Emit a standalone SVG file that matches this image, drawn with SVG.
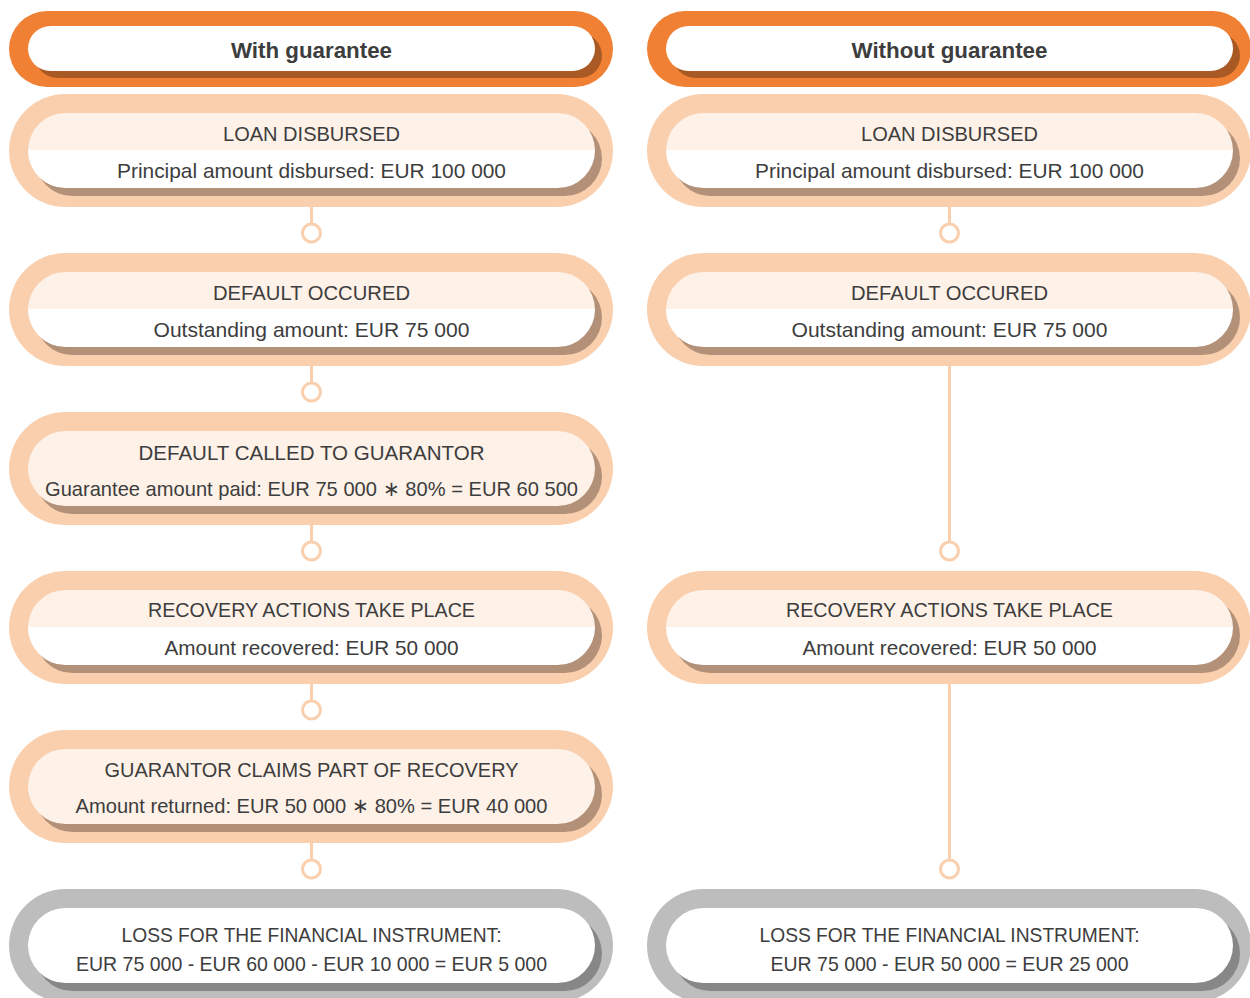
<svg xmlns="http://www.w3.org/2000/svg" width="1250" height="998" viewBox="0 0 1250 998">
  <defs>
    <!-- two-tone fill for steps with a title band over a white detail band -->
    <linearGradient id="band" x1="0" y1="0" x2="0" y2="1">
      <stop offset="0.5" stop-color="#fdf1e8"/>
      <stop offset="0.5" stop-color="#ffffff"/>
    </linearGradient>
  </defs>
  <style>
    .txt { font-family: "Liberation Sans", Arial, sans-serif; font-size: 21px; fill: #3d3d3d; text-anchor: middle; }
    .hd { font-weight: bold; font-size: 22px; }
    .hd-outer { fill: #f08034; }
    .hd-shadow { fill: #a95a24; }
    .st-outer { fill: #f9cfae; }
    .st-shadow { fill: #b39078; }
    .loss-outer { fill: #bdbdbd; }
    .loss-shadow { fill: #878787; }
    .white { fill: #ffffff; }
    .light { fill: #fdf1e8; }
    .split { fill: url(#band); }
    .conn line { stroke: #f9cfae; stroke-width: 3; }
    .conn circle { stroke: #f9cfae; stroke-width: 3; fill: #ffffff; }
  </style>
  <rect width="1250" height="998" fill="#ffffff"/>

  <!-- connectors -->
  <g id="connectors" class="conn">
    <line x1="311.5" y1="207" x2="311.5" y2="224"/>
    <circle cx="311.5" cy="233" r="9"/>
    <line x1="311.5" y1="366" x2="311.5" y2="383"/>
    <circle cx="311.5" cy="392" r="9"/>
    <line x1="311.5" y1="525" x2="311.5" y2="542"/>
    <circle cx="311.5" cy="551" r="9"/>
    <line x1="311.5" y1="684" x2="311.5" y2="701"/>
    <circle cx="311.5" cy="710" r="9"/>
    <line x1="311.5" y1="843" x2="311.5" y2="860"/>
    <circle cx="311.5" cy="869" r="9"/>

    <line x1="949.5" y1="207" x2="949.5" y2="224"/>
    <circle cx="949.5" cy="233" r="9"/>
    <line x1="949.5" y1="366" x2="949.5" y2="542"/>
    <circle cx="949.5" cy="551" r="9"/>
    <line x1="949.5" y1="684" x2="949.5" y2="860"/>
    <circle cx="949.5" cy="869" r="9"/>
  </g>

  <!-- left column: with guarantee -->
  <g id="hdr-with">
    <rect class="hd-outer" x="9" y="11" width="604" height="76" rx="38"/>
    <rect class="hd-shadow" x="35" y="33" width="567" height="45" rx="22.5"/>
    <rect class="white" x="28" y="26" width="567" height="45" rx="22.5"/>
    <text class="txt hd" x="311.5" y="58" textLength="161" lengthAdjust="spacingAndGlyphs">With guarantee</text>
  </g>

  <g id="w-loan">
    <rect class="st-outer" x="9" y="94" width="604" height="113" rx="56.5"/>
    <rect class="st-shadow" x="35" y="121" width="567" height="75" rx="37.5"/>
    <rect class="split" x="28" y="113" width="567" height="75" rx="37.5"/>
    <text class="txt" x="311.5" y="141" textLength="177" lengthAdjust="spacingAndGlyphs">LOAN DISBURSED</text>
    <text class="txt" x="311.5" y="178" textLength="389" lengthAdjust="spacingAndGlyphs">Principal amount disbursed: EUR 100 000</text>
  </g>

  <g id="w-default">
    <rect class="st-outer" x="9" y="253" width="604" height="113" rx="56.5"/>
    <rect class="st-shadow" x="35" y="280" width="567" height="75" rx="37.5"/>
    <rect class="split" x="28" y="272" width="567" height="75" rx="37.5"/>
    <text class="txt" x="311.5" y="300" textLength="197" lengthAdjust="spacingAndGlyphs">DEFAULT OCCURED</text>
    <text class="txt" x="311.5" y="337" textLength="316" lengthAdjust="spacingAndGlyphs">Outstanding amount: EUR 75 000</text>
  </g>

  <g id="w-called">
    <rect class="st-outer" x="9" y="412" width="604" height="113" rx="56.5"/>
    <rect class="st-shadow" x="35" y="439" width="567" height="75" rx="37.5"/>
    <rect class="light" x="28" y="431" width="567" height="75" rx="37.5"/>
    <text class="txt" x="311.5" y="459.5" textLength="346" lengthAdjust="spacingAndGlyphs">DEFAULT CALLED TO GUARANTOR</text>
    <text class="txt" x="311.5" y="496" textLength="533" lengthAdjust="spacingAndGlyphs">Guarantee amount paid: EUR 75 000 ∗ 80% = EUR 60 500</text>
  </g>

  <g id="w-recovery">
    <rect class="st-outer" x="9" y="571" width="604" height="113" rx="56.5"/>
    <rect class="st-shadow" x="35" y="598" width="567" height="75" rx="37.5"/>
    <rect class="split" x="28" y="590" width="567" height="75" rx="37.5"/>
    <text class="txt" x="311.5" y="617" textLength="327" lengthAdjust="spacingAndGlyphs">RECOVERY ACTIONS TAKE PLACE</text>
    <text class="txt" x="311.5" y="655" textLength="294" lengthAdjust="spacingAndGlyphs">Amount recovered: EUR 50 000</text>
  </g>

  <g id="w-claim">
    <rect class="st-outer" x="9" y="730" width="604" height="113" rx="56.5"/>
    <rect class="st-shadow" x="35" y="757" width="567" height="75" rx="37.5"/>
    <rect class="light" x="28" y="749" width="567" height="75" rx="37.5"/>
    <text class="txt" x="311.5" y="777" textLength="414" lengthAdjust="spacingAndGlyphs">GUARANTOR CLAIMS PART OF RECOVERY</text>
    <text class="txt" x="311.5" y="813" textLength="472" lengthAdjust="spacingAndGlyphs">Amount returned: EUR 50 000 ∗ 80% = EUR 40 000</text>
  </g>

  <g id="w-loss">
    <rect class="loss-outer" x="9" y="889" width="604" height="113" rx="56.5"/>
    <rect class="loss-shadow" x="35" y="916" width="567" height="75" rx="37.5"/>
    <rect class="white" x="28" y="908" width="567" height="75" rx="37.5"/>
    <text class="txt" x="311.5" y="941.5" textLength="380" lengthAdjust="spacingAndGlyphs">LOSS FOR THE FINANCIAL INSTRUMENT:</text>
    <text class="txt" x="311.5" y="970.5" textLength="471" lengthAdjust="spacingAndGlyphs">EUR 75 000 - EUR 60 000 - EUR 10 000 = EUR 5 000</text>
  </g>

  <!-- right column: without guarantee -->
  <g id="hdr-without">
    <rect class="hd-outer" x="647" y="11" width="604" height="76" rx="38"/>
    <rect class="hd-shadow" x="673" y="33" width="567" height="45" rx="22.5"/>
    <rect class="white" x="666" y="26" width="567" height="45" rx="22.5"/>
    <text class="txt hd" x="949.5" y="58" textLength="196" lengthAdjust="spacingAndGlyphs">Without guarantee</text>
  </g>

  <g id="wo-loan">
    <rect class="st-outer" x="647" y="94" width="604" height="113" rx="56.5"/>
    <rect class="st-shadow" x="673" y="121" width="567" height="75" rx="37.5"/>
    <rect class="split" x="666" y="113" width="567" height="75" rx="37.5"/>
    <text class="txt" x="949.5" y="141" textLength="177" lengthAdjust="spacingAndGlyphs">LOAN DISBURSED</text>
    <text class="txt" x="949.5" y="178" textLength="389" lengthAdjust="spacingAndGlyphs">Principal amount disbursed: EUR 100 000</text>
  </g>

  <g id="wo-default">
    <rect class="st-outer" x="647" y="253" width="604" height="113" rx="56.5"/>
    <rect class="st-shadow" x="673" y="280" width="567" height="75" rx="37.5"/>
    <rect class="split" x="666" y="272" width="567" height="75" rx="37.5"/>
    <text class="txt" x="949.5" y="300" textLength="197" lengthAdjust="spacingAndGlyphs">DEFAULT OCCURED</text>
    <text class="txt" x="949.5" y="337" textLength="316" lengthAdjust="spacingAndGlyphs">Outstanding amount: EUR 75 000</text>
  </g>

  <g id="wo-recovery">
    <rect class="st-outer" x="647" y="571" width="604" height="113" rx="56.5"/>
    <rect class="st-shadow" x="673" y="598" width="567" height="75" rx="37.5"/>
    <rect class="split" x="666" y="590" width="567" height="75" rx="37.5"/>
    <text class="txt" x="949.5" y="617" textLength="327" lengthAdjust="spacingAndGlyphs">RECOVERY ACTIONS TAKE PLACE</text>
    <text class="txt" x="949.5" y="655" textLength="294" lengthAdjust="spacingAndGlyphs">Amount recovered: EUR 50 000</text>
  </g>

  <g id="wo-loss">
    <rect class="loss-outer" x="647" y="889" width="604" height="113" rx="56.5"/>
    <rect class="loss-shadow" x="673" y="916" width="567" height="75" rx="37.5"/>
    <rect class="white" x="666" y="908" width="567" height="75" rx="37.5"/>
    <text class="txt" x="949.5" y="941.5" textLength="380" lengthAdjust="spacingAndGlyphs">LOSS FOR THE FINANCIAL INSTRUMENT:</text>
    <text class="txt" x="949.5" y="970.5" textLength="358" lengthAdjust="spacingAndGlyphs">EUR 75 000 - EUR 50 000 = EUR 25 000</text>
  </g>
</svg>
